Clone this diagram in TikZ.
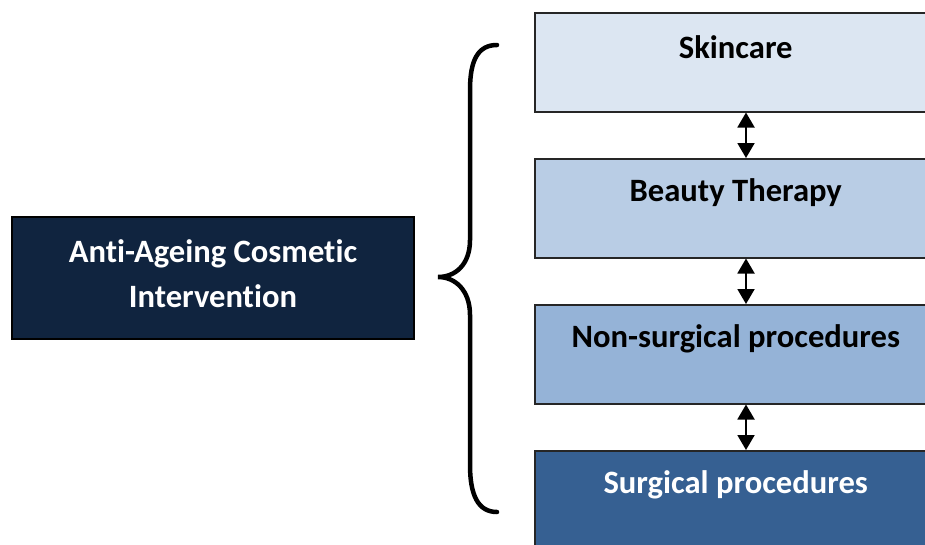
\documentclass[tikz,border=0pt]{standalone}
\usepackage{fontspec}
\setmainfont{Carlito}[Ligatures=NoCommon]
\usetikzlibrary{arrows.meta,calc}
\definecolor{navy}{HTML}{10243F}
\definecolor{cA}{HTML}{DCE6F2}
\definecolor{cB}{HTML}{B9CDE5}
\definecolor{cC}{HTML}{95B3D7}
\definecolor{cD}{HTML}{366092}
\definecolor{edge}{HTML}{262626}
\tikzset{
  x=1pt,y=1pt,
  catbox/.style={draw=edge, line width=1.5pt, anchor=north west, minimum width=402pt, minimum height=99pt, inner sep=0pt},
  catlabel/.style={font=\fontsize{32.6}{38}\selectfont\bfseries, inner sep=0pt},
  mainbox/.style={draw=black, line width=1.2pt, fill=navy, minimum width=402pt, minimum height=122pt, inner sep=0pt},
  mainlabel/.style={text=white, align=center, font=\fontsize{32.6}{45}\selectfont\bfseries, inner sep=0pt},
  link/.style={line width=2pt, {Triangle[width=17pt,length=15pt]}-{Triangle[width=17pt,length=15pt]}},
  bracepath/.style={line width=4.5pt, line cap=round}
}
\begin{document}
\begin{tikzpicture}
\useasboundingbox (0,0) rectangle (925,-544);
\clip (0,0) rectangle (925,-544);
\node[mainbox] (main) at (213,-278) {};
\node[mainlabel] (mainL) at ($(main.center)+(0,4)$) {Anti-Ageing Cosmetic\\Intervention};
\node[catbox, fill=cA] (skin) at (534,-12) {};
\node[catbox, fill=cB] (beauty) at (534,-158) {};
\node[catbox, fill=cC] (nonsurg) at (534,-304) {};
\node[catbox, fill=cD] (surg) at (534,-450) {};
\node[catlabel] (skinL) at ($(skin.north)+(0,-35)$) {Skincare};
\node[catlabel] (beautyL) at ($(beauty.north)+(0,-35)$) {Beauty Therapy};
\node[catlabel] (nonsurgL) at ($(nonsurg.north)+(0,-35)$) {Non-surgical procedures};
\node[catlabel, text=white] (surgL) at ($(surg.north)+(0,-35)$) {Surgical procedures};
\coordinate (ax) at (746,0);
\draw[link] (skin.south -| ax) -- (beauty.north -| ax);
\draw[link] (beauty.south -| ax) -- (nonsurg.north -| ax);
\draw[link] (nonsurg.south -| ax) -- (surg.north -| ax);
\draw[bracepath] (497,-45) .. controls (478,-45) and (470,-60) .. (470,-90) -- (470,-240) .. controls (470,-265) and (455,-277) .. (438,-277) .. controls (455,-277) and (470,-290) .. (470,-315) -- (470,-465) .. controls (470,-495) and (478,-512) .. (497,-512);
\end{tikzpicture}
\end{document}
